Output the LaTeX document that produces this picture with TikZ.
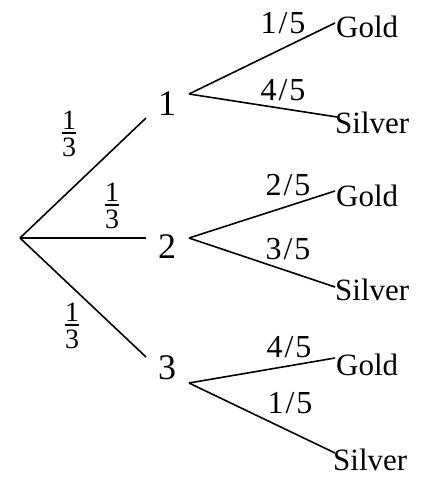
\documentclass[tikz,border=0pt]{standalone}
\usepackage{fontspec}
\setmainfont{Liberation Serif}
\begin{document}
\begin{tikzpicture}[x=1pt,y=-1pt,
  branch/.style={line width=1.6pt},
  stage/.style={font=\fontsize{36}{36}\selectfont, inner sep=0pt, anchor=base},
  outcome/.style={font=\fontsize{31}{31}\selectfont, inner sep=0pt, anchor=base west},
  prob/.style={font=\fontsize{32}{32}\selectfont, inner sep=0pt, anchor=base},
  third/.style={font=\fontsize{28}{28}\selectfont, inner sep=0pt}]
\useasboundingbox (0,0) rectangle (429,477);
\newcommand{\pr}[2]{#1\kern2pt/\kern2pt#2}
% stacked fraction one third
\newcommand{\onethird}{\vbox{\hbox to 14pt{\hss1\hss}\kern3pt
  \hrule height 1.2pt\kern4.5pt\hbox to 14pt{\hss3\hss}}}
% branch points
\coordinate (root) at (20,238);
\coordinate (e1) at (146,118);
\coordinate (e2) at (146,238);
\coordinate (e3) at (146,357);
\coordinate (s1) at (189,94);
\coordinate (s2) at (189,238);
\coordinate (s3) at (189,383);
\coordinate (g1) at (335,23);
\coordinate (v1) at (337,117);
\coordinate (g2) at (335,191);
\coordinate (v2) at (335,287);
\coordinate (g3) at (335,358);
\coordinate (v3) at (335,453);
% first stage
\draw[branch] (root) -- (e1);
\draw[branch] (root) -- (e2);
\draw[branch] (root) -- (e3);
\node[third] (t1) at (69,134) {\onethird};
\node[third] (t2) at (112,206) {\onethird};
\node[third] (t3) at (72,326) {\onethird};
\node[stage] (n1) at (167,115) {1};
\node[stage] (n2) at (167,258) {2};
\node[stage] (n3) at (167,379) {3};
% second stage
\draw[branch] (s1) -- (g1);
\draw[branch] (s1) -- (v1);
\draw[branch] (s2) -- (g2);
\draw[branch] (s2) -- (v2);
\draw[branch] (s3) -- (g3);
\draw[branch] (s3) -- (v3);
\node[prob] (p1) at (283,33) {\pr{1}{5}};
\node[prob] (p2) at (283,100) {\pr{4}{5}};
\node[prob] (p3) at (288,195) {\pr{2}{5}};
\node[prob] (p4) at (288,259) {\pr{3}{5}};
\node[prob] (p5) at (289,357) {\pr{4}{5}};
\node[prob] (p6) at (290,413) {\pr{1}{5}};
\node[outcome] (o1) at (336,37) {Gold};
\node[outcome] (o2) at (335,133) {Silver};
\node[outcome] (o3) at (336,206) {Gold};
\node[outcome] (o4) at (335,300) {Silver};
\node[outcome] (o5) at (336,375) {Gold};
\node[outcome] (o6) at (333,470) {Silver};
\end{tikzpicture}
\end{document}
